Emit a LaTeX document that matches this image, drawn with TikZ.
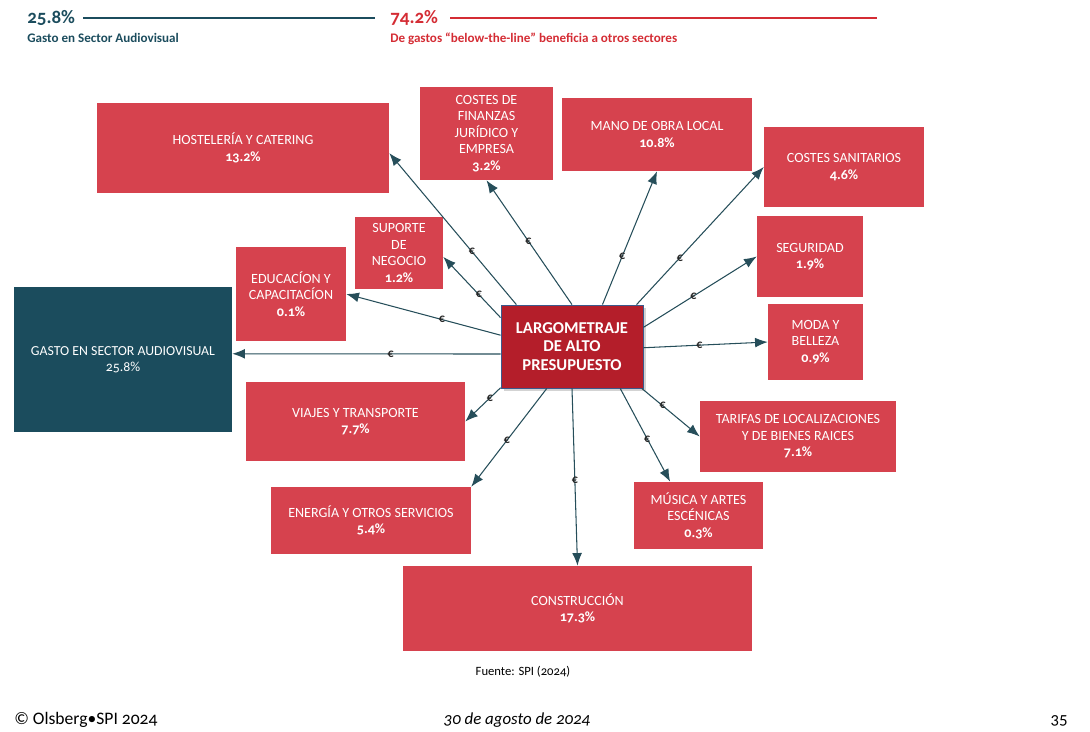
\documentclass[tikz,border=0pt]{standalone}
\usepackage{fontspec}
\setmainfont{Carlito}[Numbers=OldStyle]
\usetikzlibrary{arrows.meta, shadows}
\definecolor{boxred}{RGB}{214,66,78}
\definecolor{deepred}{RGB}{180,30,42}
\definecolor{sectorteal}{RGB}{27,76,93}
\definecolor{flowteal}{RGB}{38,78,90}
\definecolor{headred}{RGB}{212,44,52}
\definecolor{rimblue}{RGB}{60,90,140}
\tikzset{
  flow/.style={-{Latex[length=9pt, width=7pt]}, line width=0.75pt, flowteal},
  euro/.style={font=\fontsize{8.5}{9}\selectfont\bfseries, text=black!85, inner sep=0pt},
  sizebox/.style 2 args={minimum width=#1*0.025cm, minimum height=#2*0.025cm},
  spendbox/.style={fill=boxred, text=white, align=center, inner sep=2pt,
                   font=\fontsize{10}{11.7}\selectfont},
  sectorbox/.style={fill=sectorteal, text=white, align=center,
                    font=\fontsize{9.8}{11}\selectfont},
  filmbox/.style={fill=deepred, draw=rimblue, line width=0.6pt, text=white,
                  align=center, drop shadow={opacity=0.35},
                  font=\fontsize{11.8}{13}\selectfont\bfseries},
}

\begin{document}
\begin{tikzpicture}[x=0.025cm, y=-0.025cm]
  \useasboundingbox (0,0) rectangle (1090,731);

  % ---- Header ----
  \node[anchor=base west, inner sep=0, sectorteal, font=\fontsize{13.5}{14}\selectfont\bfseries]
    (hdleft) at (27,23) {25.8\%};
  \node[anchor=base west, inner sep=0, sectorteal, font=\fontsize{9.3}{10}\selectfont\bfseries]
    (hdleftsub) at (27,42) {Gasto en Sector Audiovisual};
  \draw[sectorteal, line width=2pt] (83,18) -- (375,18);
  \node[anchor=base west, inner sep=0, headred, font=\fontsize{13.5}{14}\selectfont\bfseries]
    (hdright) at (390,23) {74.2\%};
  \node[anchor=base west, inner sep=0, headred, font=\fontsize{9.3}{10}\selectfont\bfseries]
    (hdrightsub) at (390,42) {De gastos “below-the-line” beneficia a otros sectores};
  \draw[headred, line width=1.5pt] (450,18) -- (877,18);

  % ---- Spending boxes ----
  \node[spendbox, sizebox={292}{90}] (host) at (243,148)
    {HOSTELERÍA Y CATERING\\\textbf{13.2\%}};
  \node[spendbox, sizebox={133}{93}] (fin) at (486.5,133.5)
    {COSTES DE\\FINANZAS\\JURÍDICO Y\\EMPRESA\\\textbf{3.2\%}};
  \node[spendbox, sizebox={190}{73}] (mano) at (657,134.5)
    {MANO DE OBRA LOCAL\\\textbf{10.8\%}};
  \node[spendbox, sizebox={160}{80}] (sanit) at (844,167)
    {COSTES SANITARIOS\\\textbf{4.6\%}};
  \node[spendbox, sizebox={88}{72}] (supo) at (399,253)
    {SUPORTE\\DE\\NEGOCIO\\\textbf{1.2\%}};
  \node[spendbox, sizebox={110}{94}] (educ) at (291,294)
    {EDUCACÍON Y\\CAPACITACÍON\\\textbf{0.1\%}};
  \node[spendbox, sizebox={106}{81}] (segu) at (810,256.5)
    {SEGURIDAD\\\textbf{1.9\%}};
  \node[spendbox, sizebox={95}{76}] (moda) at (815.5,342)
    {MODA Y\\BELLEZA\\\textbf{0.9\%}};
  \node[spendbox, sizebox={219}{79}] (viajes) at (355.5,421.5)
    {VIAJES Y TRANSPORTE\\\textbf{7.7\%}};
  \node[spendbox, sizebox={196}{71}] (tarifas) at (798,436.5)
    {TARIFAS DE LOCALIZACIONES\\Y DE BIENES RAICES\\\textbf{7.1\%}};
  \node[spendbox, sizebox={200}{67}] (energia) at (371,520.5)
    {ENERGÍA Y OTROS SERVICIOS\\\textbf{5.4\%}};
  \node[spendbox, sizebox={129}{67}] (musica) at (698.5,515.5)
    {MÚSICA Y ARTES\\ESCÉNICAS\\\textbf{0.3\%}};
  \node[spendbox, sizebox={349}{85}] (constr) at (577.5,608.5)
    {CONSTRUCCIÓN\\\textbf{17.3\%}};

  % ---- Audiovisual sector ----
  \node[sectorbox, sizebox={218}{145}] (gasto) at (123,359.5)
    {GASTO EN SECTOR AUDIOVISUAL\\25.8\%};

  % ---- Central production ----
  \node[filmbox, sizebox={142}{83}] (centre) at (572,346.5)
    {LARGOMETRAJE\\DE ALTO\\PRESUPUESTO};

  % ---- Money flows ----
  \foreach \a/\t/\p in {143/host.-2/0.35, 158/supo.-5/0.38, 90/fin.south/0.51,
      54/mano.south/0.36, 33/sanit.west/0.34, 15/segu.west/0.44,
      -1/moda.west/0.45, 186/gasto.3/0.41, 171/educ.east/0.38,
      210/viajes.east/0.3, 239/energia.north east/0.53, 270/constr.north/0.52,
      319/musica.130/0.54, 329/tarifas.west/0.36}
    \draw[flow] (centre.\a) -- (\t) node[euro, pos=\p] {€};

  % ---- Footer ----
  \node[anchor=base, inner sep=0, font=\fontsize{9}{10}\selectfont]
    (source) at (523,675) {Fuente: SPI (2024)};
  \node[anchor=base west, inner sep=0, font=\fontsize{12.5}{13}\selectfont]
    (copy) at (14,724) {© Olsberg•SPI 2024};
  \node[anchor=base, inner sep=0, font=\fontsize{12}{13}\selectfont\itshape]
    (date) at (517,724) {30 de agosto de 2024};
  \node[anchor=base east, inner sep=0, font=\fontsize{12}{13}\selectfont]
    (page) at (1068,724) {35};
\end{tikzpicture}
\end{document}
